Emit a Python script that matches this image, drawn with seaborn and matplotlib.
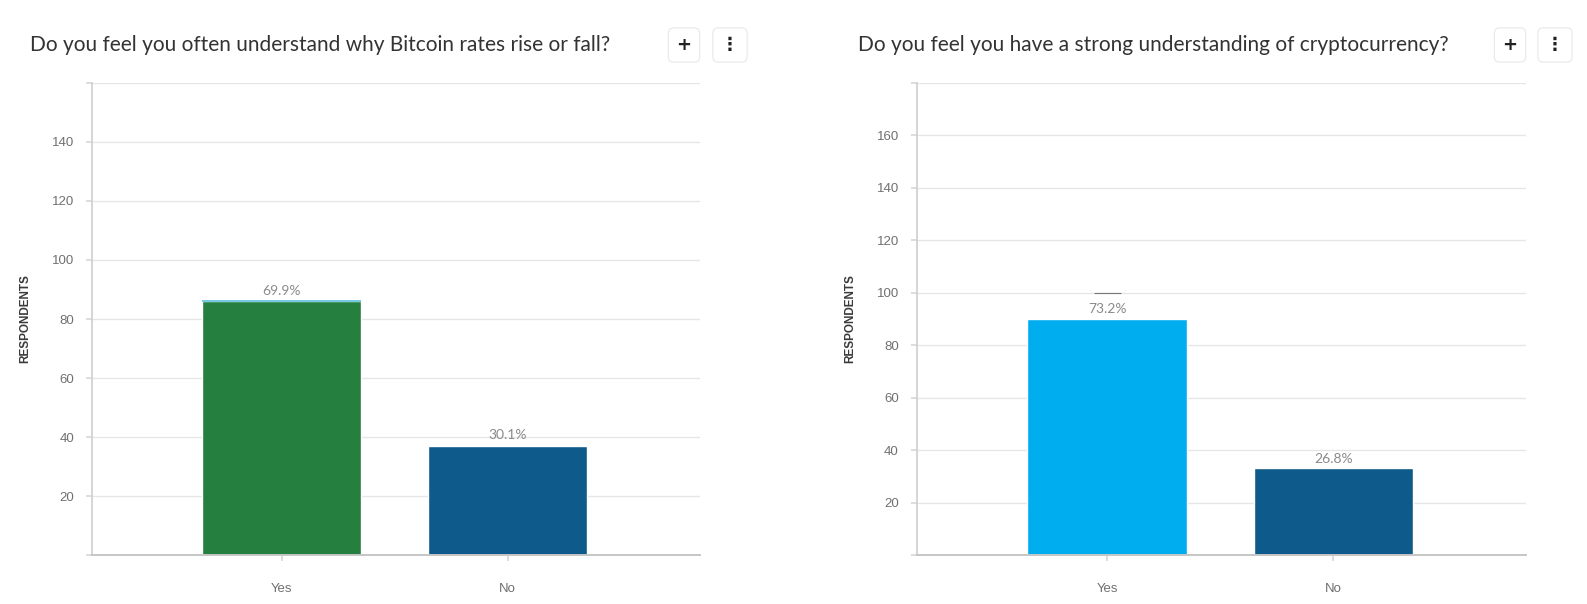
import matplotlib
matplotlib.use("Agg")
import matplotlib.pyplot as plt
import pandas as pd
import seaborn as sns

# survey answers
answers = ["Yes", "No"]
bitcoin_counts = [86, 37]
bitcoin_pct = ["69.9%", "30.1%"]
crypto_counts = [90, 33]
crypto_pct = ["73.2%", "26.8%"]

PANELS = [
    ("Do you feel you often understand why Bitcoin rates rise or fall?",
     bitcoin_counts, bitcoin_pct, ["#257f3e", "#0e5a8a"], 160),
    ("Do you feel you have a strong understanding of cryptocurrency?",
     crypto_counts, crypto_pct, ["#00adee", "#0e5a8a"], 180),
]

sns.set_theme(style="white")
plt.rcParams["font.family"] = ["Lato", "DejaVu Sans"]

fig = plt.figure(figsize=(15.87, 6.04), dpi=100)
axes_rects = [(0.058, 0.0811, 0.383, 0.7815), (0.5778, 0.0811, 0.3837, 0.7815)]
title_x = [30 / 1587, 858 / 1587]
buttons_x = [(684, 730), (1510, 1555)]

for k, ((title, counts, pcts, colors, top), rect, tx, bx) in enumerate(
        zip(PANELS, axes_rects, title_x, buttons_x)):
    ax = fig.add_axes(rect)
    df = pd.DataFrame({"answer": answers, "count": counts})
    sns.barplot(data=df, x="answer", y="count", hue="answer", palette=colors,
                width=0.705, legend=False, ax=ax, saturation=1)
    ax.set_xlim(-0.84, 1.85)
    ax.set_ylim(0, top)
    ticks = list(range(0, top + 1, 20))
    ax.set_yticks(ticks, [""] + [str(t) for t in ticks[1:-1]] + [""])
    ax.grid(axis="y", color="#e6e6e6", lw=1)
    ax.set_axisbelow(True)
    for side in ("top", "right"):
        ax.spines[side].set_visible(False)
    ax.spines["left"].set_color("#d0d0d0")
    ax.spines["bottom"].set_color("#c6c6c6")
    ax.spines["bottom"].set_linewidth(1.4)
    ax.tick_params(axis="y", length=4, color="#d8d8d8", labelsize=9.5,
                   labelcolor="#707070", pad=9, left=True)
    ax.tick_params(axis="x", length=4, color="#d8d8d8", labelsize=9.5,
                   labelcolor="#707070", pad=16, bottom=True)
    for lab in ax.get_yticklabels() + ax.get_xticklabels():
        lab.set_family("Liberation Sans")
    ax.set_xlabel("")
    ax.set_ylabel("RESPONDENTS", fontsize=8.5, fontweight="bold", color="#3a3a3a",
                  family="Liberation Sans")
    ax.yaxis.set_label_coords(-0.1, 0.5)

    bars = ax.patches
    for i, (c, p) in enumerate(zip(counts, pcts)):
        ax.text(i, c + 1.5, p, ha="center", va="bottom", fontsize=10, color="#8a8a8a")

    # thin highlight on top of the first bar (left panel) / faint marker above it (right panel)
    b = bars[0]
    if k == 0:
        ax.hlines(b.get_height(), b.get_x(), b.get_x() + b.get_width(),
                  color="#5bc0de", lw=1.2, zorder=4)
    else:
        ax.hlines(100, 0 - 0.06, 0 + 0.06, color="#777777", lw=0.8, zorder=4)

    fig.text(tx, 1 - 45 / 604, title, fontsize=15, color="#333333", va="center", ha="left")
    for x, sym in zip(bx, ["+", "⋮"]):
        fig.text(x / 1587, 1 - 45 / 604, sym, ha="center", va="center", fontsize=13,
                 fontweight="bold", color="#222222", family="DejaVu Sans",
                 bbox=dict(boxstyle="round,pad=0.45,rounding_size=0.3", fc="white",
                           ec="#e8e8e8", lw=0.8))

fig.savefig("out.png", dpi=100)
